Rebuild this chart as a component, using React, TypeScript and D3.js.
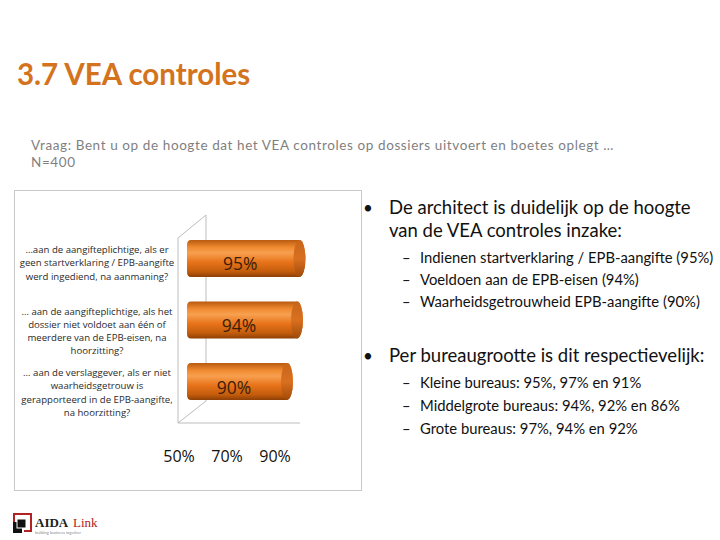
import React from "react";
import * as d3 from "d3";

const categories = [
  ["…aan de aangifteplichtige, als er", "geen startverklaring / EPB-aangifte", "werd ingediend, na aanmaning?"],
  ["… aan de aangifteplichtige, als het", "dossier niet voldoet aan één of", "meerdere van de EPB-eisen, na", "hoorzitting?"],
  ["… aan de verslaggever, als er niet", "waarheidsgetrouw is", "gerapporteerd in de EPB-aangifte,", "na hoorzitting?"],
];
const values = [95, 94, 90];
const valueLabels = ["95%", "94%", "90%"];
const tickValues = [50, 70, 90];
const tickLabels = ["50%", "70%", "90%"];

const title = "3.7 VEA controles";
const subtitle1 = "Vraag: Bent u op de hoogte dat het VEA controles op dossiers uitvoert en boetes oplegt …";
const subtitle2 = "N=400";
const bullet1 = ["De architect is duidelijk op de hoogte", "van de VEA controles inzake:"];
const bullet1Subs = [
  "Indienen startverklaring / EPB-aangifte (95%)",
  "Voeldoen aan de EPB-eisen (94%)",
  "Waarheidsgetrouwheid EPB-aangifte (90%)",
];
const bullet2 = ["Per bureaugrootte is dit respectievelijk:"];
const bullet2Subs = [
  "Kleine bureaus: 95%, 97% en 91%",
  "Middelgrote bureaus: 94%, 92% en 86%",
  "Grote bureaus: 97%, 94% en 92%",
];

export default function App() {
  const x = d3.scaleLinear().domain([50, 100]).range([187, 312]);
  const y = d3
    .scaleBand<number>()
    .domain(d3.range(values.length))
    .range([240, 400])
    .paddingInner(0.4)
    .paddingOuter(0);
  const bw = y.bandwidth();
  const font = "Lato, 'Open Sans', sans-serif";
  const orange = "#D4731E";

  return (
    <svg
      width={720}
      height={540}
      style={{ position: "absolute", left: 0, top: 0, background: "#fff" }}
      fontFamily={font}
    >
      <defs>
        <linearGradient id="cyl" x1="0" y1="0" x2="0" y2="1">
          <stop offset="0" stopColor="#B85A10" />
          <stop offset="0.2" stopColor="#F08A30" />
          <stop offset="0.35" stopColor="#F7A050" />
          <stop offset="0.6" stopColor="#E8731A" />
          <stop offset="0.85" stopColor="#C45D0C" />
          <stop offset="1" stopColor="#8E4006" />
        </linearGradient>
        <linearGradient id="cap" x1="0" y1="0" x2="0" y2="1">
          <stop offset="0" stopColor="#C8651A" />
          <stop offset="0.5" stopColor="#D97020" />
          <stop offset="1" stopColor="#A04A08" />
        </linearGradient>
      </defs>

      {/* Title */}
      <text x={17} y={85} fontSize={29.5} fontWeight={700} fill={orange}>
        {title}
      </text>
      {/* Subtitle */}
      <text x={31} y={150} fontSize={13.5} letterSpacing={0.6} fill="#7f7f7f">
        {subtitle1}
      </text>
      <text x={31} y={167} fontSize={13.5} letterSpacing={0.6} fill="#7f7f7f">
        {subtitle2}
      </text>

      {/* Chart box */}
      <rect x={14.5} y={190.5} width={347} height={300} fill="#fff" stroke="#c8c8c8" strokeWidth={1} />

      {/* 3D wall */}
      <g stroke="#bdbdbd" strokeWidth={1} fill="none">
        <line x1={178} y1={238} x2={178} y2={423} />
        <line x1={178} y1={238} x2={206} y2={215} />
        <line x1={178} y1={423} x2={206} y2={401} />
        <line x1={206} y1={215} x2={206} y2={401} />
        <line x1={178} y1={423} x2={300} y2={423} />
      </g>

      {/* Bars */}
      {values.map((v, i) => {
        const y0 = y(i)!;
        const x0 = x(50);
        const x1 = x(v);
        const rx = 6;
        return (
          <g key={i}>
            <path
              d={`M${x0 + 4},${y0} L${x1},${y0} A${rx},${bw / 2} 0 0 1 ${x1},${y0 + bw} L${x0 + 4},${y0 + bw} Q${x0},${y0 + bw} ${x0},${y0 + bw - 5} L${x0},${y0 + 5} Q${x0},${y0} ${x0 + 4},${y0} Z`}
              fill="url(#cyl)"
            />
            <ellipse cx={x1} cy={y0 + bw / 2} rx={rx} ry={bw / 2} fill="url(#cap)" />
            <text
              x={(x0 + x1) / 2 - 3}
              y={y0 + bw / 2 + 12}
              fontSize={17.5}
              fill="#3b1e08"
              textAnchor="middle"
              fontFamily="'Open Sans', sans-serif"
            >
              {valueLabels[i]}
            </text>
          </g>
        );
      })}

      {/* Category labels */}
      {categories.map((lines, i) => (
        <text key={i} fontSize={9.6} fill="#2a2a2a" textAnchor="middle" fontFamily="'Open Sans', sans-serif">
          {lines.map((l, j) => (
            <tspan key={j} x={97} y={y(i)! + 13 + j * 13.3}>
              {l}
            </tspan>
          ))}
        </text>
      ))}

      {/* Tick labels */}
      {tickValues.map((t, i) => (
        <text
          key={t}
          x={x(t) - 8 - i * 2}
          y={462}
          fontSize={16}
          textAnchor="middle"
          fill="#111"
          fontFamily="'Open Sans', sans-serif"
        >
          {tickLabels[i]}
        </text>
      ))}

      {/* Right-side text */}
      <g fill="#111">
        <text x={363} y={214} fontSize={17}>•</text>
        {bullet1.map((l, i) => (
          <text key={i} x={389} y={214 + i * 23} fontSize={18.5}>
            {l}
          </text>
        ))}
        {bullet1Subs.map((l, i) => (
          <g key={i}>
            <text x={402} y={263 + i * 22} fontSize={14.8}>–</text>
            <text x={420} y={263 + i * 22} fontSize={14.8}>{l}</text>
          </g>
        ))}
        <text x={363} y={362} fontSize={17}>•</text>
        {bullet2.map((l, i) => (
          <text key={i} x={389} y={362 + i * 23} fontSize={18.5}>
            {l}
          </text>
        ))}
        {bullet2Subs.map((l, i) => (
          <g key={i}>
            <text x={402} y={388 + i * 23} fontSize={14.8}>–</text>
            <text x={420} y={388 + i * 23} fontSize={14.8}>{l}</text>
          </g>
        ))}
      </g>

      {/* Logo */}
      <g>
        <path d="M14,527 V514 H31 V531 H24" fill="none" stroke="#b22222" strokeWidth={2} />
        <rect x={13} y={522} width={9} height={11} fill="#111" />
        <rect x={17} y={519} width={9} height={9} fill="#111" stroke="#fff" strokeWidth={1} />
        <text x={35} y={527} fontSize={13} fontWeight={700} fontFamily="'Liberation Serif', serif" fill="#222">AIDA</text>
        <text x={73} y={527} fontSize={13} fontFamily="'Liberation Serif', serif" fill="#b22222">Link</text>
        <text x={35} y={534} fontSize={4} fill="#888">building business together</text>
      </g>
    </svg>
  );
}
